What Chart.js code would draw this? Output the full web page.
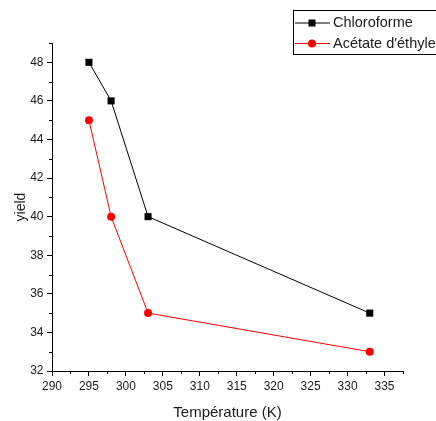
<!DOCTYPE html>
<html>
<head>
<meta charset="utf-8">
<script src="https://cdn.jsdelivr.net/npm/chart.js@4/dist/chart.umd.min.js"></script>
<style>
html,body{margin:0;padding:0;background:#fff;}
#wrap{width:436px;height:421px;position:relative;}
</style>
</head>
<body>
<div id="wrap"><canvas id="c" width="436" height="421"></canvas></div>
<script>
const temperatures = [295, 298, 303, 333];
const chloroforme = [48, 46, 40, 35];
const acetate = [45, 40, 35, 33];
const seriesNames = ['Chloroforme', "Acétate d'éthyle"];
const xTitle = 'Température (K)';
const yTitle = 'yield';
const xMajorTicks = [290, 295, 300, 305, 310, 315, 320, 325, 330, 335];
const yMajorTicks = [32, 34, 36, 38, 40, 42, 44, 46, 48];
const xMinorTicks = [292.5, 297.5, 302.5, 307.5, 312.5, 317.5, 322.5, 327.5, 332.5, 337.5];
const yMinorTicks = [33, 35, 37, 39, 41, 43, 45, 47, 49];

const FONT = "'Liberation Sans', Arial, sans-serif";
const TXT = '#1a1a1a';

const minorTicks = {
  id: 'minorTicks',
  afterDraw(chart) {
    const ctx = chart.ctx;
    const xs = chart.scales.x, ys = chart.scales.y;
    const ca = chart.chartArea;
    ctx.save();
    ctx.strokeStyle = '#000';
    ctx.lineWidth = 1;
    ctx.beginPath();
    xMinorTicks.forEach(v => {
      const px = Math.round(xs.getPixelForValue(v)) + 0.5;
      ctx.moveTo(px, ca.bottom);
      ctx.lineTo(px, ca.bottom + 3);
    });
    yMinorTicks.forEach(v => {
      const py = Math.round(ys.getPixelForValue(v)) + 0.5;
      ctx.moveTo(ca.left, py);
      ctx.lineTo(ca.left - 3, py);
    });
    ctx.stroke();
    ctx.restore();
  }
};

const boxLegend = {
  id: 'boxLegend',
  afterDraw(chart) {
    const ctx = chart.ctx;
    ctx.save();
    ctx.strokeStyle = '#000';
    ctx.lineWidth = 1;
    ctx.strokeRect(293.5, 10.5, 160, 44);
    const rows = [23, 43.5];
    chart.data.datasets.forEach((ds, i) => {
      const y = rows[i];
      ctx.strokeStyle = ds.borderColor;
      ctx.lineWidth = 1;
      ctx.beginPath();
      ctx.moveTo(295, y);
      ctx.lineTo(330, y);
      ctx.stroke();
      ctx.fillStyle = ds.backgroundColor;
      if (ds.pointStyle === 'rect') {
        ctx.fillRect(308.5, y - 3.5, 7, 7);
      } else {
        ctx.beginPath();
        ctx.arc(312, y, 4, 0, Math.PI * 2);
        ctx.fill();
      }
      ctx.fillStyle = TXT;
      ctx.font = '14.5px ' + FONT;
      ctx.textBaseline = 'middle';
      ctx.textAlign = 'left';
      ctx.fillText(ds.label, 333, y);
    });
    ctx.restore();
  }
};

const toPts = (arr) => temperatures.map((t, i) => ({x: t, y: arr[i]}));

new Chart(document.getElementById('c'), {
  type: 'scatter',
  data: {
    datasets: [
      {
        label: seriesNames[0],
        data: toPts(chloroforme),
        showLine: true,
        borderColor: '#000',
        backgroundColor: '#000',
        borderWidth: 1,
        pointStyle: 'rect',
        pointRadius: 5,
        pointBorderWidth: 0,
        tension: 0
      },
      {
        label: seriesNames[1],
        data: toPts(acetate),
        showLine: true,
        borderColor: '#ff0000',
        backgroundColor: '#ff0000',
        borderWidth: 1,
        pointStyle: 'circle',
        pointRadius: 4,
        pointBorderWidth: 0,
        tension: 0
      }
    ]
  },
  options: {
    responsive: false,
    animation: false,
    devicePixelRatio: 1,
    layout: { padding: { top: 43, right: 33, left: 0, bottom: 0 } },
    plugins: { legend: { display: false }, tooltip: { enabled: false } },
    scales: {
      x: {
        type: 'linear',
        min: 290,
        max: 337.5,
        afterFit(s) { s.height = 50; },
        afterBuildTicks(s) { s.ticks = xMajorTicks.map(v => ({value: v})); },
        ticks: {
          includeBounds: false,
          stepSize: 5,
          padding: 3,
          maxRotation: 0,
          color: TXT,
          font: { family: FONT, size: 12 }
        },
        grid: { drawOnChartArea: false, drawTicks: true, tickLength: 5, color: '#000', tickColor: '#000' },
        border: { display: true, color: '#000', width: 1 },
        title: {
          display: true,
          text: xTitle,
          color: TXT,
          font: { family: FONT, size: 15, lineHeight: 1 },
          padding: { top: 0, bottom: 0.5 }
        }
      },
      y: {
        type: 'linear',
        min: 32,
        max: 49,
        afterFit(s) { s.width = 52; },
        afterBuildTicks(s) { s.ticks = yMajorTicks.map(v => ({value: v})); },
        ticks: {
          includeBounds: false,
          stepSize: 2,
          padding: 3.5,
          color: TXT,
          font: { family: FONT, size: 12 }
        },
        grid: { drawOnChartArea: false, drawTicks: true, tickLength: 5, color: '#000', tickColor: '#000' },
        border: { display: true, color: '#000', width: 1 },
        title: {
          display: true,
          text: yTitle,
          color: TXT,
          font: { family: FONT, size: 14, lineHeight: 1.2 },
          padding: { top: 12.5, bottom: 0 }
        }
      }
    }
  },
  plugins: [minorTicks, boxLegend]
});
</script>
</body>
</html>
